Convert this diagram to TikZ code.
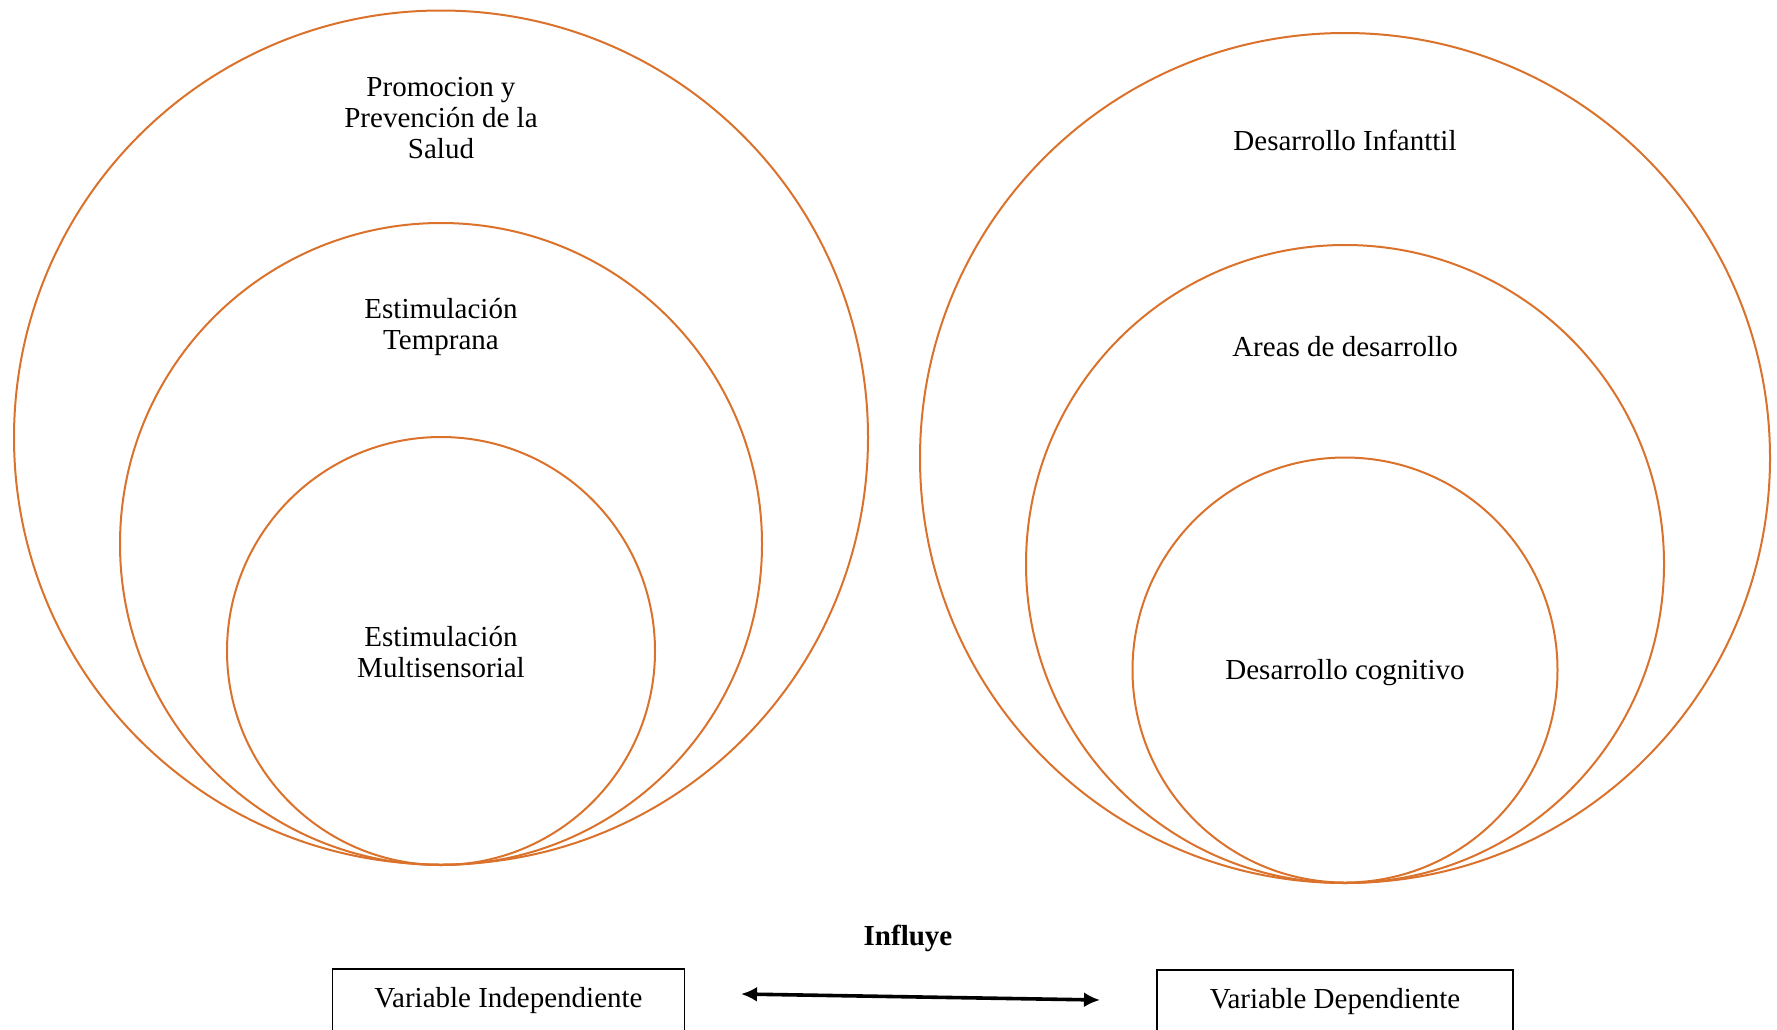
\documentclass[tikz,border=0pt]{standalone}
\usepackage{fontspec}
\setmainfont{Liberation Serif}
\usepackage{tikz}
\usetikzlibrary{calc,positioning,arrows.meta}
\definecolor{ring}{RGB}{218,114,44}

\begin{document}
\begin{tikzpicture}[x=0.5pt,y=-0.5pt,
                    ring/.style={draw=ring,line width=1pt},
                    lbl/.style={align=center,inner sep=0pt,font=\fontsize{14.5}{15.3}\selectfont},
                    vbox/.style={draw,line width=0.8pt,minimum width=176pt,inner xsep=0pt,inner ysep=0pt,
                                 text height=19.5pt,text depth=40pt,anchor=north,font=\fontsize{14.5}{15.3}\selectfont}]
                        \clip (0,0) rectangle (1777,1029);

                        % left
                        \draw[ring] (441,437.5) circle[radius=213.5pt];
                        \draw[ring] (441,544) circle[radius=160.5pt];
                        \draw[ring] (441,651) circle[radius=107pt];
                        \node[lbl] (prom) at (441,118) {Promocion y\\Prevención de la\\Salud};
                        \node[lbl] (temp) at (441,327) {Estimulación\\Temprana};
                        \node[lbl] (mult) at (441,652) {Estimulación\\Multisensorial};

                        % right
                        \draw[ring] (1345,458) circle[radius=212.5pt];
                        \draw[ring] (1345,564) circle[radius=159.5pt];
                        \draw[ring] (1345,670) circle[radius=106.25pt];
                        \node[lbl] (inf) at (1345,140) {Desarrollo Infanttil};
                        \node[lbl] (areas) at (1345,347) {Areas de desarrollo};
                        \node[lbl] (cog) at (1345,673) {Desarrollo cognitivo};

                        \node[lbl,font=\fontsize{14.5}{15.3}\selectfont\bfseries] (influye) at (908,938) {Influye};
                        \node[vbox] (vi) at (508.5,968) {Variable Independiente};
                        \node[vbox,minimum width=178pt] (vd) at (1335,969) {Variable Dependiente};

                        \coordinate (al) at (741,994);
                        \coordinate (ar) at (1100,1000);
                        \begin{scope}[{Latex[length=8pt,width=7.5pt]}-{Latex[length=8pt,width=7.5pt]},line width=1.8pt]
                            \draw (al) -- (ar);
                        \end{scope}
                    \end{tikzpicture}
\end{document}
